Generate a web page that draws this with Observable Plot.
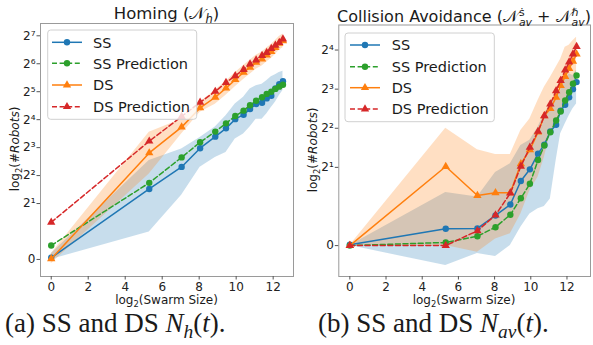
<!DOCTYPE html>
<html><head><meta charset="utf-8">
<script src="https://cdn.jsdelivr.net/npm/d3@7"></script>
<script src="https://cdn.jsdelivr.net/npm/@observablehq/plot@0.6"></script>
<style>
body{margin:0;background:#fff;}
#fig{position:relative;width:593px;height:345px;overflow:hidden;font-family:"DejaVu Sans",sans-serif;color:#1a1a1a;background:#fff;}
.abs{position:absolute;}
.title{font-size:16.5px;line-height:1;white-space:nowrap;transform:translateX(-50%);}
.title sub,.title sup{font-size:0.7em;line-height:0;}
.stack{display:inline-block;vertical-align:-0.42em;font-size:0.68em;line-height:0.95;margin-left:1px;}
.stack>span{display:block;}
.cap{font-family:"Liberation Serif","Times New Roman",serif;font-size:27px;line-height:1;white-space:nowrap;}
.cap sub{font-size:0.72em;line-height:0;}
.ylab{font-size:12px;line-height:1;white-space:nowrap;transform:translate(-50%,-50%) rotate(-90deg);}
.xlab{font-size:12px;line-height:1;white-space:nowrap;transform:translateX(-50%);}
.ylab sub,.xlab sub{font-size:0.7em;line-height:0;}
</style>
</head><body><div id="fig"></div>
<script>
// x: log2(Swarm Size)
const swarmLog2 = [0, 5.3, 7.05, 8.05, 8.87, 9.45, 9.95, 10.4, 10.75, 11.08, 11.4, 11.65, 11.9, 12.12, 12.33, 12.53];
const xTicks = [0, 2, 4, 6, 8, 10, 12];

// Homing (N_h): #Robots
const homingSS      = [0.06, 2.87, 4.96, 7.89, 10.5, 12.9, 16.2, 18.1, 20.8, 23.6, 24.3, 27.1, 29.0, 34.8, 38.6, 41.4];
const homingSSPred  = [0.5, 3.34, 6.28, 9.13, 11.9, 14.6, 17.5, 20.0, 22.9, 25.6, 27.9, 30.3, 32.0, 34.3, 36.3, 38.1];
const homingDS      = [0.02, 7.01, 13.3, 21.4, 27.9, 35.0, 43.1, 51.6, 58.5, 66.3, 72.0, 79.3, 86.8, 95.7, 106, 113];
const homingDSPred  = [1.33, 9.38, 17.3, 24.6, 32.2, 40.2, 47.5, 55.3, 63.6, 70.0, 78.3, 84.4, 93.0, 101, 108, 118];
const homingSSLow   = [0, 0.98, 2.45, 4.92, 6.28, 7.11, 9.92, 11.2, 13.3, 16.2, 16.2, 18.4, 21.7, 24.6, 29.0, 32.9];
const homingSSHigh  = [0.2, 5.82, 7.73, 10.3, 13.3, 17.6, 23.6, 27.9, 34.3, 37.0, 38.6, 41.9, 46.5, 48.8, 51.6, 53.1];
const homingDSLow   = [-0.15, 4.17, 11.2, 19.2, 23.4, 29.4, 36.3, 43.4, 49.2, 55.7, 60.6, 66.7, 73.0, 80.4, 89.3, 95.0];
const homingDSHigh  = [0.2, 11.7, 16.2, 24.6, 33.1, 41.6, 51.3, 61.4, 69.6, 78.8, 85.6, 94.4, 103, 114, 126, 134];
const homingYTicks  = [0, 2, 4, 8, 16, 32, 64, 128];

// Collision Avoidance (N_av^s + N_av^h): #Robots
const avoidSS       = [0.02, 0.43, 0.44, 0.77, 1.05, 1.65, 1.95, 2.55, 2.99, 3.78, 4.26, 5.46, 6.06, 6.92, 8.0, 9.06];
const avoidSSPred   = [0.0, 0.08, 0.24, 0.47, 0.79, 1.21, 1.58, 2.28, 2.95, 3.73, 4.59, 5.39, 6.54, 7.57, 8.82, 10.2];
const avoidDS       = [0.0, 2.03, 1.28, 1.35, 1.35, 2.13, 2.73, 3.73, 4.99, 5.66, 6.92, 8.51, 9.99, 11.5, 13.1, 14.9];
const avoidDSPred   = [0.0, 0.0, 0.38, 0.78, 1.34, 2.04, 2.85, 3.78, 4.99, 6.15, 7.78, 9.32, 11.2, 12.9, 14.9, 17.0];
const avoidSSLow    = [0, -0.51, -0.2, -0.28, 0, 0.47, 0.81, 0.94, 1.0, 1.19, 2.25, 3.63, 4.32, 4.99, 5.66, 6.15];
const avoidSSHigh   = [0, 1.36, 1.24, 1.87, 2.13, 2.95, 3.23, 4.08, 5.17, 6.15, 6.92, 7.78, 9.58, 10.5, 10.2, 11.2];
const avoidDSLow    = [0, 0, -0.17, 0.17, 0.3, 0.81, 1.41, 1.75, 2.39, 3.63, 4.32, 5.17, 6.54, 7.78, 8.82, 9.85];
const avoidDSHigh   = [0, 4.0, 2.73, 2.51, 2.51, 3.84, 4.72, 6.54, 8.28, 9.85, 11.8, 13.6, 16.8, 17.4, 18.9, 20.1];
const avoidYTicks   = [0, 2, 4, 8, 16];

const seriesNames = ["SS", "SS Prediction", "DS", "DS Prediction"];
const C = {blue: "#1f77b4", orange: "#ff7f0e", green: "#2ca02c", red: "#d62728"};

// symmetric log, base 2, linthresh 2 (matplotlib-style)
const sym = v => Math.abs(v) <= 2 ? v : Math.sign(v) * (2 + Math.log2(Math.abs(v) / 2));
const supDigits = "⁰¹²³⁴⁵⁶⁷⁸⁹";
const fmtPow = v => v === 0 ? "0" : "2" + String(Math.round(Math.log2(v))).split("").map(c => supDigits[+c]).join("");

function makePlot(cfg) {
  const rows = swarmLog2.map((x, i) => ({
    x, ss: cfg.ss[i], ssp: cfg.ssp[i], ds: cfg.ds[i], dsp: cfg.dsp[i],
    ssLo: cfg.ssLo[i], ssHi: cfg.ssHi[i], dsLo: cfg.dsLo[i], dsHi: cfg.dsHi[i]
  }));
  const series = [
    {key: "ss", color: C.blue, dash: null, symbol: "circle", r: 3.2},
    {key: "ssp", color: C.green, dash: "5,2.6", symbol: "circle", r: 3.2},
    {key: "ds", color: C.orange, dash: null, symbol: "triangle", r: 3.1},
    {key: "dsp", color: C.red, dash: "5,2.6", symbol: "triangle", r: 3.1}
  ];
  const marks = [
    Plot.areaY(rows, {x: "x", y1: d => sym(d.ssLo), y2: d => sym(d.ssHi), fill: C.blue, fillOpacity: 0.25}),
    Plot.areaY(rows, {x: "x", y1: d => sym(d.dsLo), y2: d => sym(d.dsHi), fill: C.orange, fillOpacity: 0.25})
  ];
  for (const s of series) {
    marks.push(Plot.lineY(rows, {x: "x", y: d => sym(d[s.key]), stroke: s.color, strokeWidth: 1.5, strokeDasharray: s.dash}));
    marks.push(Plot.dot(rows, {x: "x", y: d => sym(d[s.key]), fill: s.color, symbol: s.symbol, r: s.r}));
  }
  marks.push(
    Plot.frame({stroke: "#9a9a9a", strokeWidth: 1}),
    Plot.axisX({ticks: xTicks, tickSize: 3.5, tickPadding: 2.5, stroke: "#555", fill: "#222", label: null}),
    Plot.axisY({ticks: cfg.yTicks.map(sym), tickFormat: (u, i) => fmtPow(cfg.yTicks[i]), tickSize: 3.5, tickPadding: 1.5, stroke: "#555", fill: "#222", label: null})
  );
  return Plot.plot({
    width: cfg.width, height: 300,
    marginLeft: cfg.ml, marginRight: cfg.mr, marginTop: cfg.mt, marginBottom: 24,
    style: {fontFamily: "DejaVu Sans", fontSize: "12px", background: "transparent", color: "#222", overflow: "visible"},
    x: {domain: cfg.xDomain},
    y: {domain: cfg.yDomain},
    marks
  });
}

const fig = document.getElementById("fig");
function place(el, left, top) { el.classList.add("abs"); el.style.left = left + "px"; el.style.top = top + "px"; fig.appendChild(el); return el; }
function div(cls, html, left, top, extra) { const d = document.createElement("div"); d.className = cls; d.innerHTML = html; if (extra) Object.assign(d.style, extra); return place(d, left, top); }

const plotA = makePlot({
  width: 296, ml: 40, mr: 3, mt: 23,
  xDomain: [-0.58, 13.1], yDomain: [-0.61, 8.44], yTicks: homingYTicks,
  ss: homingSS, ssp: homingSSPred, ds: homingDS, dsp: homingDSPred,
  ssLo: homingSSLow, ssHi: homingSSHigh, dsLo: homingDSLow, dsHi: homingDSHigh
});
place(plotA, 0, 0);

const plotB = makePlot({
  width: 297, ml: 42.3, mr: 3, mt: 24.5,
  xDomain: [-0.61, 13.3], yDomain: [-0.79, 5.64], yTicks: avoidYTicks,
  ss: avoidSS, ssp: avoidSSPred, ds: avoidDS, dsp: avoidDSPred,
  ssLo: avoidSSLow, ssHi: avoidSSHigh, dsLo: avoidDSLow, dsHi: avoidDSHigh
});
place(plotB, 296, 0);

// titles
div("title", 'Homing (𝒩<sub><i>h</i></sub>)', 166.5, 6);
div("title", 'Collision Avoidance (𝒩<span class="stack"><span>ṡ</span><span><i>av</i></span></span> + 𝒩<span class="stack"><span>ℏ</span><span><i>av</i></span></span>)', 464, 7.5, {fontSize: "16px"});

// axis labels
div("ylab", 'log<sub>2</sub>(#<i>Robots</i>)', 15, 149.4);
div("ylab", 'log<sub>2</sub>(#<i>Robots</i>)', 313, 150);
div("xlab", 'log<sub>2</sub>(Swarm Size)', 166.5, 293.5);
div("xlab", 'log<sub>2</sub>(Swarm Size)', 464, 293.5);

// captions
div("cap", '(a) SS and DS <i>N<sub>h</sub></i>(<i>t</i>).', 5, 309.5);
div("cap", '(b) SS and DS <i>N<sub>av</sub></i>(<i>t</i>).', 318, 309.5);

// legends
const legendSvg = d3.create("svg").attr("width", 593).attr("height", 345)
  .style("position", "absolute").style("left", "0px").style("top", "0px").style("pointer-events", "none");
const legStyles = [
  {color: C.blue, dash: null, sym: d3.symbolCircle, size: 32},
  {color: C.green, dash: "5,2.6", sym: d3.symbolCircle, size: 32},
  {color: C.orange, dash: null, sym: d3.symbolTriangle, size: 30},
  {color: C.red, dash: "5,2.6", sym: d3.symbolTriangle, size: 30}
];
function legend(box, lineX0, textX, ys) {
  const g = legendSvg.append("g");
  g.append("rect").attr("x", box[0]).attr("y", box[1]).attr("width", box[2]).attr("height", box[3])
    .attr("rx", 3).attr("fill", "#fff").attr("fill-opacity", 0.8).attr("stroke", "#d0d0d0").attr("stroke-width", 1);
  seriesNames.forEach((name, i) => {
    const s = legStyles[i], y = ys[i];
    g.append("line").attr("x1", lineX0).attr("x2", lineX0 + 30).attr("y1", y).attr("y2", y)
      .attr("stroke", s.color).attr("stroke-width", 1.5).attr("stroke-dasharray", s.dash);
    g.append("path").attr("d", d3.symbol(s.sym, s.size)()).attr("transform", `translate(${lineX0 + 15},${y})`).attr("fill", s.color);
    g.append("text").attr("x", textX).attr("y", y).attr("dy", "0.36em").attr("font-size", 14.5)
      .attr("font-family", "DejaVu Sans").attr("fill", "#1a1a1a").text(name);
  });
}
legend([47.7, 30, 149, 89.3], 52, 93, [42.3, 63.3, 85, 106.7]);
legend([345, 33, 149.3, 88.7], 350, 391.7, [45, 66.7, 87.7, 109]);
fig.appendChild(legendSvg.node());
</script>
</body></html>
